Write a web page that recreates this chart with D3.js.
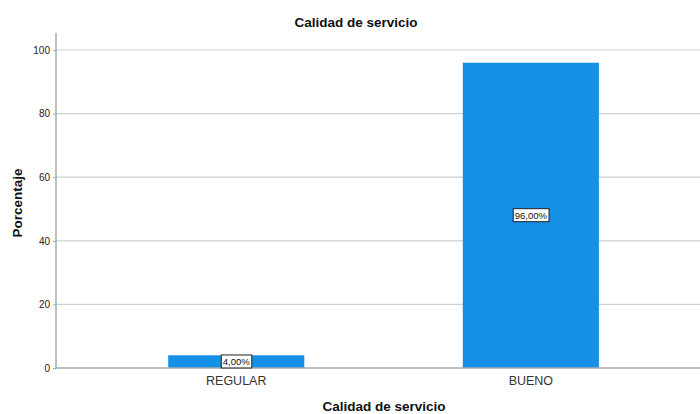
<!DOCTYPE html>
<html><head><meta charset="utf-8">
<script src="https://cdn.jsdelivr.net/npm/d3@7"></script>
<style>body{margin:0;background:#fff}svg{display:block}text{font-family:"Liberation Sans",Arial,sans-serif}</style>
</head><body><svg id="c" width="700" height="414"></svg>
<script>
const categories = ["REGULAR", "BUENO"];
const values = [4, 96];
const valueLabels = ["4,00%", "96,00%"];
const yTicks = [0, 20, 40, 60, 80, 100];
const title = "Calidad de servicio";
const xTitle = "Calidad de servicio";
const yTitle = "Porcentaje";

(function () {
const svg = d3.select("#c");
const mLeft = 56, mRight = 700, mTop = 33, mBottom = 368;
const x = d3.scaleBand().domain(categories).range([mLeft, mRight])
  .paddingInner(0.538).paddingOuter(0.362).align(0.526);
const y = d3.scaleLinear().domain([0, 100]).range([mBottom, 50]);

// gridlines
svg.append("g").selectAll("line").data(yTicks.filter(d => d > 0)).join("line")
  .attr("x1", mLeft).attr("x2", mRight).attr("y1", d => y(d)).attr("y2", d => y(d))
  .attr("stroke", "#cfcfcf").attr("stroke-width", 1.2);

// bars
svg.append("g").selectAll("rect").data(values).join("rect")
  .attr("x", (d, i) => x(categories[i])).attr("width", x.bandwidth())
  .attr("y", d => y(d)).attr("height", d => y(0) - y(d))
  .attr("fill", "#1490e6");

// y axis
const ya = svg.append("g").attr("transform", `translate(${mLeft},0)`)
  .call(d3.axisLeft(y).tickValues(yTicks).tickSize(3).tickPadding(3));
ya.select(".domain").remove();
ya.selectAll(".tick line").attr("stroke", "#aaa");
ya.selectAll(".tick text").attr("font-size", 10).attr("fill", "#222")
  .style("font-family", '"Liberation Sans",Arial,sans-serif');
svg.append("line").attr("x1", mLeft).attr("x2", mLeft).attr("y1", mTop).attr("y2", mBottom)
  .attr("stroke", "#aaa").attr("stroke-width", 1.5);

// x axis
const xa = svg.append("g").attr("transform", `translate(0,${mBottom})`)
  .call(d3.axisBottom(x).tickSize(0).tickPadding(8));
xa.select(".domain").remove();
xa.selectAll(".tick text").attr("font-size", 12.5).attr("fill", "#333")
  .style("font-family", '"Liberation Sans",Arial,sans-serif');
svg.append("line").attr("x1", mLeft).attr("x2", mRight).attr("y1", mBottom).attr("y2", mBottom)
  .attr("stroke", "#aaa").attr("stroke-width", 1.5);

// value labels
const lg = svg.append("g").selectAll("g").data(values).join("g")
  .attr("transform", (d, i) => `translate(${x(categories[i]) + x.bandwidth() / 2},${y(d / 2)})`);
lg.append("text").text((d, i) => valueLabels[i]).attr("text-anchor", "middle")
  .attr("dy", "0.35em").attr("font-size", 9.5).attr("fill", "#111")
  .each(function () {
    const b = this.getBBox();
    d3.select(this.parentNode).insert("rect", "text")
      .attr("x", b.x - 1.5).attr("y", b.y - 1).attr("width", b.width + 3).attr("height", b.height + 2)
      .attr("fill", "#fff").attr("stroke", "#222").attr("stroke-width", 1);
  });

// titles
svg.append("text").attr("x", 356).attr("y", 27).attr("text-anchor", "middle")
  .attr("font-size", 13.5).attr("font-weight", "bold").attr("fill", "#111").text(title);
svg.append("text").attr("x", 384).attr("y", 411).attr("text-anchor", "middle")
  .attr("font-size", 13.5).attr("font-weight", "bold").attr("fill", "#111").text(xTitle);
svg.append("text").attr("transform", "translate(22,203) rotate(-90)").attr("text-anchor", "middle")
  .attr("font-size", 13.5).attr("font-weight", "bold").attr("fill", "#111").text(yTitle);
})();
</script></body></html>
